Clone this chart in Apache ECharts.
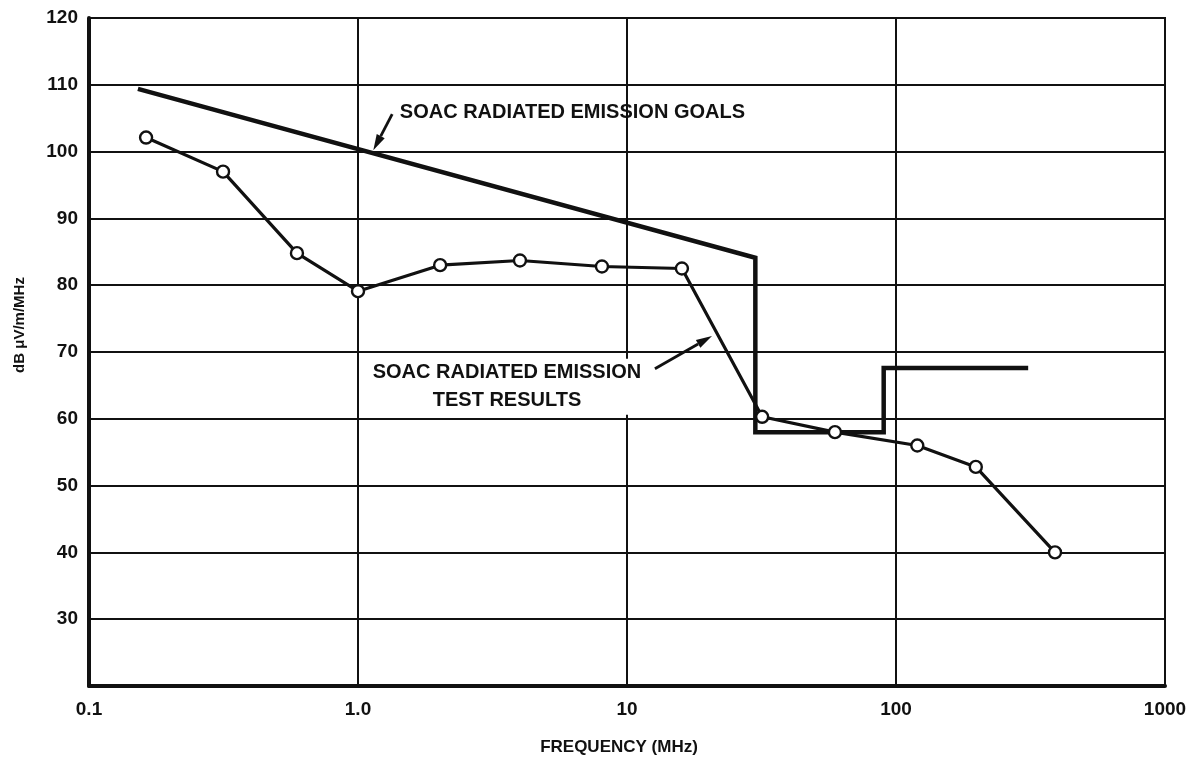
<!DOCTYPE html>
<html>
<head>
<meta charset="utf-8">
<script src="https://cdn.jsdelivr.net/npm/echarts@6/dist/echarts.min.js"></script>
<style>
html,body{margin:0;padding:0;background:#fff;}
#chart{width:1191px;height:764px;}
</style>
</head>
<body>
<div id="chart"></div>
<script>
// ---- data ----
const xTickLabels = ['0.1', '1.0', '10', '100', '1000'];
const yTickValues = [30, 40, 50, 60, 70, 80, 90, 100, 110, 120];

const testFreq  = [0.163, 0.315, 0.593, 1.0, 2.02, 4.0, 8.07, 16.0, 31.8, 59.3, 120, 198, 390];
const testLevel = [102.1, 97.0, 84.8, 79.1, 83.0, 83.7, 82.8, 82.5, 60.3, 58.0, 56.0, 52.8, 40.0];

const goalFreq  = [0.152, 30, 30, 90, 90, 310];
const goalLevel = [109.4, 84.1, 58.0, 58.0, 67.6, 67.6];

const goalsLabel = 'SOAC RADIATED EMISSION GOALS';
const testLabel = 'SOAC RADIATED EMISSION\nTEST RESULTS';
const xName = 'FREQUENCY (MHz)';
const yName = 'dB \u03bcV/m/MHz';

// annotation anchors in data coordinates
const goalsTextAt = [1.43, 105.8];
const goalsArrowFrom = [1.34, 105.6];
const goalsArrowTo = [1.14, 100.2];
const testTextAt = [3.58, 64.8];
const testArrowFrom = [12.7, 67.5];
const testArrowTo = [20.7, 72.4];

const ink = '#111';
const fontFam = '"Liberation Sans", Arial, Helvetica, sans-serif';

const chart = echarts.init(document.getElementById('chart'), null, {renderer: 'canvas'});

const option = {
  backgroundColor: '#fff',
  animation: false,
  grid: {
    left: 89, right: 26, top: 18, bottom: 78,
    show: true, borderColor: ink, borderWidth: 2
  },
  xAxis: {
    type: 'log',
    logBase: 10,
    min: 0.1,
    max: 1000,
    axisLine: {show: true, lineStyle: {color: ink, width: 4}},
    axisTick: {show: false},
    minorTick: {show: false},
    splitLine: {show: true, lineStyle: {color: ink, width: 2}},
    axisLabel: {
      color: ink, fontSize: 19, fontWeight: 'bold', fontFamily: fontFam, margin: 14,
      formatter: function (v) {
        const i = Math.round(Math.log10(v)) + 1;
        return xTickLabels[i] !== undefined ? xTickLabels[i] : '';
      }
    }
  },
  yAxis: {
    type: 'value',
    min: 20,
    max: 120,
    interval: 10,
    axisLine: {show: true, lineStyle: {color: ink, width: 4}},
    axisTick: {show: false},
    splitLine: {show: true, lineStyle: {color: ink, width: 2}},
    axisLabel: {
      color: ink, fontSize: 19, fontWeight: 'bold', fontFamily: fontFam, margin: 11,
      formatter: function (v) {
        return yTickValues.indexOf(v) >= 0 ? String(v) : '';
      }
    }
  },
  series: [
    {
      name: 'goals',
      type: 'line',
      data: goalFreq.map((f, i) => [f, goalLevel[i]]),
      symbol: 'none',
      lineStyle: {color: ink, width: 4.5, join: 'miter'},
      z: 3
    },
    {
      name: 'test',
      type: 'line',
      data: testFreq.map((f, i) => [f, testLevel[i]]),
      symbol: 'circle',
      symbolSize: 12,
      itemStyle: {color: '#fff', borderColor: ink, borderWidth: 2.4},
      lineStyle: {color: ink, width: 3.2},
      z: 4
    }
  ]
};

chart.setOption(option);

function px(p) { return chart.convertToPixel({gridIndex: 0}, p); }

function arrow(fromD, toD, id) {
  const a = px(fromD), b = px(toD);
  const dx = b[0] - a[0], dy = b[1] - a[1];
  const len = Math.sqrt(dx * dx + dy * dy);
  const ux = dx / len, uy = dy / len;
  const headL = 16, headW = 4.5;
  const bx = b[0] - ux * headL, by = b[1] - uy * headL;
  return [
    {type: 'line', id: id + 'l', z: 10,
     shape: {x1: a[0], y1: a[1], x2: bx, y2: by},
     style: {stroke: ink, lineWidth: 2.8}},
    {type: 'polygon', id: id + 'h', z: 10,
     shape: {points: [[b[0], b[1]], [bx - uy * headW, by + ux * headW], [bx + uy * headW, by - ux * headW]]},
     style: {fill: ink}}
  ];
}

const gt = px(goalsTextAt);
const tt = px(testTextAt);

chart.setOption({
  graphic: [
    {type: 'text', id: 'gt', z: 10, x: gt[0], y: gt[1],
     style: {text: goalsLabel, fill: ink, font: 'bold 20px ' + fontFam, textAlign: 'left', textVerticalAlign: 'middle'}},
    {type: 'text', id: 'tt', z: 10, x: tt[0], y: tt[1],
     style: {text: testLabel, fill: ink, font: 'bold 20px ' + fontFam, textAlign: 'center', textVerticalAlign: 'middle', lineHeight: 28, backgroundColor: '#fff'}},
    {type: 'text', id: 'xn', z: 10, x: (89 + 1165) / 2 - 8, y: 747,
     style: {text: xName, fill: ink, font: 'bold 17px ' + fontFam, textAlign: 'center', textVerticalAlign: 'middle'}},
    {type: 'text', id: 'yn', z: 10, x: 20, y: 325, rotation: Math.PI / 2,
     style: {text: yName, fill: ink, font: 'bold 15px ' + fontFam, textAlign: 'center', textVerticalAlign: 'middle'}}
  ].concat(arrow(goalsArrowFrom, goalsArrowTo, 'ga'), arrow(testArrowFrom, testArrowTo, 'ta'))
});
</script>
</body>
</html>
